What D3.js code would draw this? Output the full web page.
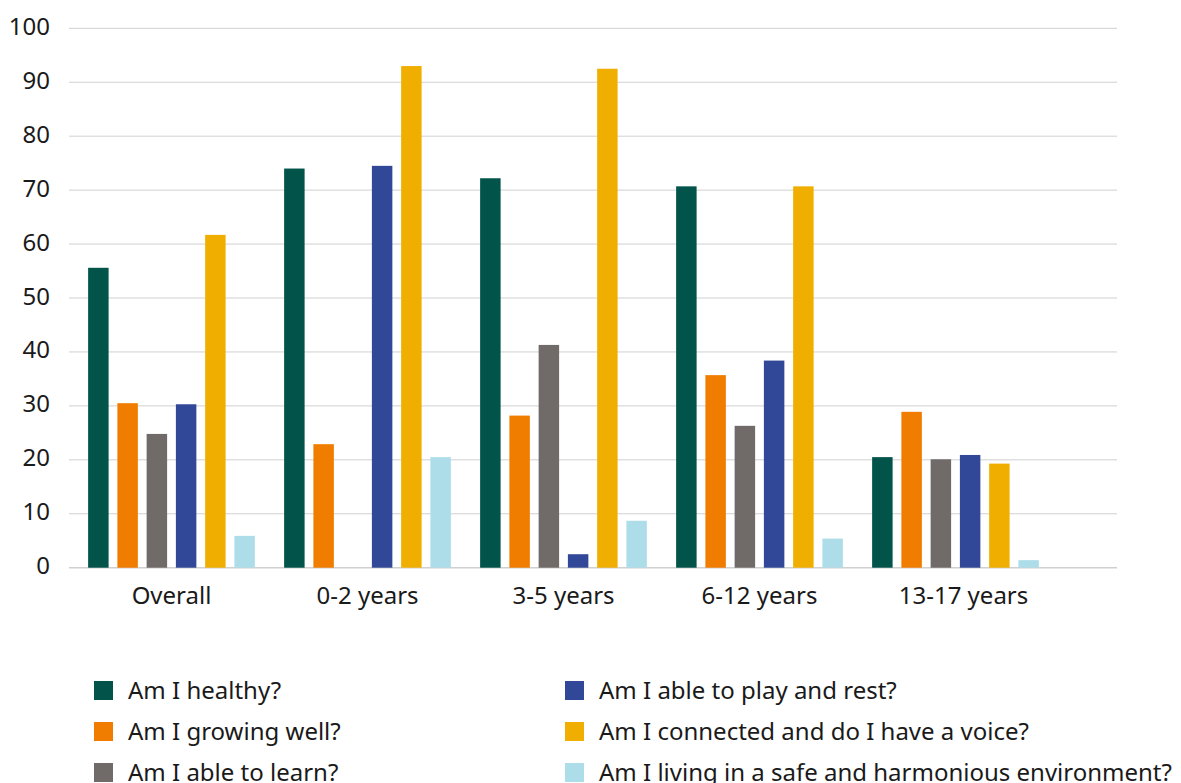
<!DOCTYPE html>
<html>
<head>
<meta charset="utf-8">
<script src="https://cdn.jsdelivr.net/npm/d3@7"></script>
<style>
  html, body { margin: 0; padding: 0; background: #ffffff; }
  svg { display: block; }
  text { font-family: "Noto Sans", "Open Sans", sans-serif; fill: #1a1a1a; }
</style>
</head>
<body>
<svg id="chart" width="1181" height="783"></svg>
<script>
const categories = ["Overall", "0-2 years", "3-5 years", "6-12 years", "13-17 years"];
const seriesNames = [
  "Am I healthy?",
  "Am I growing well?",
  "Am I able to learn?",
  "Am I able to play and rest?",
  "Am I connected and do I have a voice?",
  "Am I living in a safe and harmonious environment?"
];
const seriesColors = ["#02544A", "#F07D00", "#706A69", "#314899", "#F0AF00", "#AEDDEA"];
const healthy   = [55.6, 74.0, 72.2, 70.7, 20.5];
const growing   = [30.5, 22.9, 28.2, 35.7, 28.9];
const learn     = [24.8, 0,    41.3, 26.3, 20.1];
const playRest  = [30.3, 74.5, 2.5,  38.4, 20.9];
const connected = [61.7, 93.0, 92.5, 70.7, 19.3];
const safe      = [5.9,  20.5, 8.7,  5.4,  1.4];
const yTicks = [0, 10, 20, 30, 40, 50, 60, 70, 80, 90, 100];

const seriesValues = [healthy, growing, learn, playRest, connected, safe];

const svg = d3.select("#chart");
const plotLeft = 69, plotRight = 1117, plotTop = 28.3, plotBottom = 567.7;
const fontSize = 24;

const y = d3.scaleLinear().domain([0, 100]).range([plotBottom, plotTop]);
const x0 = d3.scaleBand().domain(categories).range([73.5, 1053.5]).paddingInner(0).paddingOuter(0);
const x1 = d3.scaleBand().domain(d3.range(seriesNames.length)).range([0, x0.bandwidth()])
  .paddingInner(0.3).paddingOuter(0.5);

// gridlines
const grid = svg.append("g");
grid.selectAll("line").data(yTicks).join("line")
  .attr("x1", plotLeft).attr("x2", plotRight)
  .attr("y1", d => y(d)).attr("y2", d => y(d))
  .attr("stroke", "#d0d0d0").attr("stroke-width", d => d === 0 ? 1.5 : 1);

// y axis labels via d3 axis
const yAxis = svg.append("g").attr("transform", `translate(${plotLeft},0)`)
  .call(d3.axisLeft(y).tickValues(yTicks).tickSize(0).tickPadding(19));
yAxis.select(".domain").remove();
yAxis.selectAll("text").attr("font-size", fontSize).attr("dy", "0.25em")
  .style("font-family", '"Noto Sans", sans-serif').attr("fill", "#1a1a1a");

// bars
const groups = svg.append("g").selectAll("g").data(categories).join("g")
  .attr("transform", c => `translate(${x0(c)},0)`);
groups.selectAll("rect")
  .data((c, ci) => seriesValues.map((vals, si) => ({ si, v: vals[ci] })))
  .join("rect")
  .attr("x", d => x1(d.si))
  .attr("width", x1.bandwidth())
  .attr("y", d => y(d.v))
  .attr("height", d => y(0) - y(d.v))
  .attr("fill", d => seriesColors[d.si]);

// x axis labels
const xAxis = svg.append("g").attr("transform", `translate(0,${plotBottom})`)
  .call(d3.axisBottom(x0).tickSize(0).tickPadding(19));
xAxis.select(".domain").remove();
xAxis.selectAll("text").attr("font-size", fontSize)
  .attr("dx", (d, i) => i === categories.length - 1 ? 8 : 0)
  .style("font-family", '"Noto Sans", sans-serif').attr("fill", "#1a1a1a");

// legend
const legendCols = [94, 565];
const legendRows = [690.5, 731.5, 772.5];
const legend = svg.append("g");
seriesNames.forEach((name, i) => {
  const col = Math.floor(i / 3), row = i % 3;
  const g = legend.append("g").attr("transform", `translate(${legendCols[col]},${legendRows[row]})`);
  g.append("rect").attr("x", 0).attr("y", -9.5).attr("width", 19).attr("height", 19).attr("fill", seriesColors[i]);
  g.append("text").attr("x", 34).attr("y", 0).attr("dy", "0.35em").attr("font-size", fontSize).text(name);
});
</script>
</body>
</html>
